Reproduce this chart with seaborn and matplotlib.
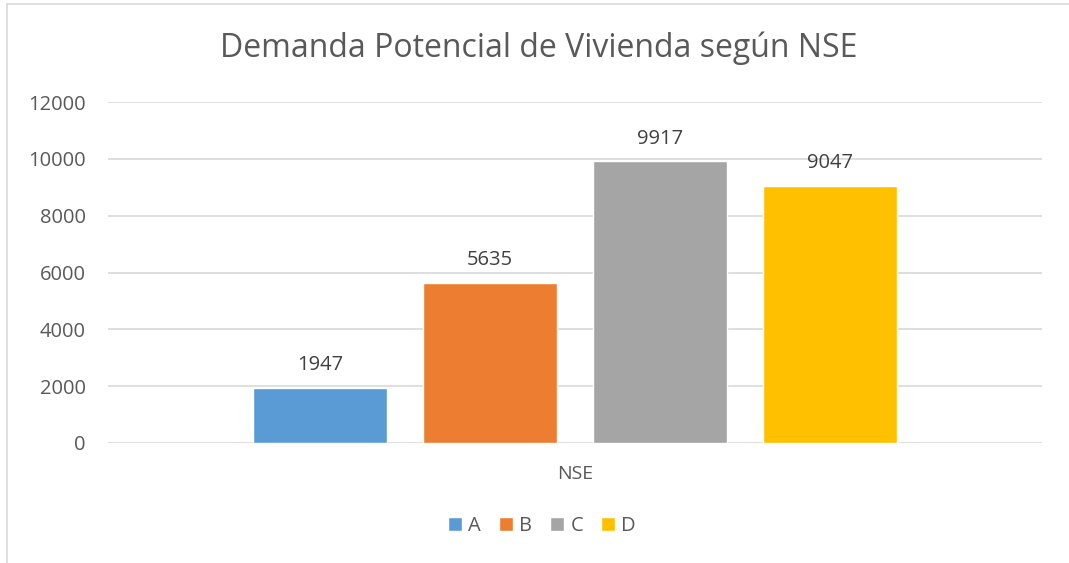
import matplotlib
matplotlib.use("Agg")
import matplotlib.pyplot as plt
import seaborn as sns
import pandas as pd

# datos
series = ["A", "B", "C", "D"]
values = [1947, 5635, 9917, 9047]
category = "NSE"
colors = ["#5B9BD5", "#ED7D31", "#A5A5A5", "#FFC000"]
yticks = [0, 2000, 4000, 6000, 8000, 10000, 12000]

df = pd.DataFrame({"cat": [category] * len(series), "serie": series, "valor": values})

sns.set_style("white")
plt.rcParams["font.family"] = ["Open Sans", "DejaVu Sans"]

fig = plt.figure(figsize=(10.69, 5.63), dpi=100)
ax = fig.add_axes([108 / 1069, 1 - 443 / 563, (1042 - 108) / 1069, (443 - 102) / 563])

sns.barplot(data=df, x="cat", y="valor", hue="serie", palette=colors,
            width=0.728, gap=0.21, ax=ax, legend=True, saturation=1)

ax.set_xlim(-0.5, 0.5)
ax.set_ylim(0, 12000)
ax.set_yticks(yticks)
ax.set_yticklabels([str(t) for t in yticks], fontsize=14.5, color="#595959")
ax.set_xticks([])
ax.set_xlabel("")
ax.set_ylabel("")
ax.grid(axis="y", color="#D9D9D9", linewidth=1.2)
ax.set_axisbelow(True)
for s in ax.spines.values():
    s.set_visible(False)
ax.tick_params(axis="y", length=0, pad=16)

for c in ax.containers:
    ax.bar_label(c, fmt="%d", padding=9, fontsize=14.5, color="#404040")

fig.text(575 / 1069, 1 - 474 / 563, category, ha="center", va="center",
         fontsize=14, color="#595959")
fig.text(539 / 1069, 1 - 48 / 563, "Demanda Potencial de Vivienda según NSE",
         ha="center", va="center", fontsize=23, color="#595959")

leg = ax.legend(loc="center", bbox_to_anchor=(542 / 1069, 1 - 526 / 563),
                bbox_transform=fig.transFigure, ncol=4, frameon=False,
                handlelength=0.7, handleheight=0.7, handletextpad=0.3,
                columnspacing=0.9, fontsize=14.5)
for t in leg.get_texts():
    t.set_color("#595959")

# borde del area del grafico
fig.add_artist(plt.Line2D([7 / 1069, 7 / 1069], [0, 1 - 4 / 563],
                          transform=fig.transFigure, color="#D9D9D9", linewidth=1.2))
fig.add_artist(plt.Line2D([7 / 1069, 1], [1 - 4 / 563, 1 - 4 / 563],
                          transform=fig.transFigure, color="#D9D9D9", linewidth=1.2))

fig.savefig("out.png", dpi=100, facecolor="white")
